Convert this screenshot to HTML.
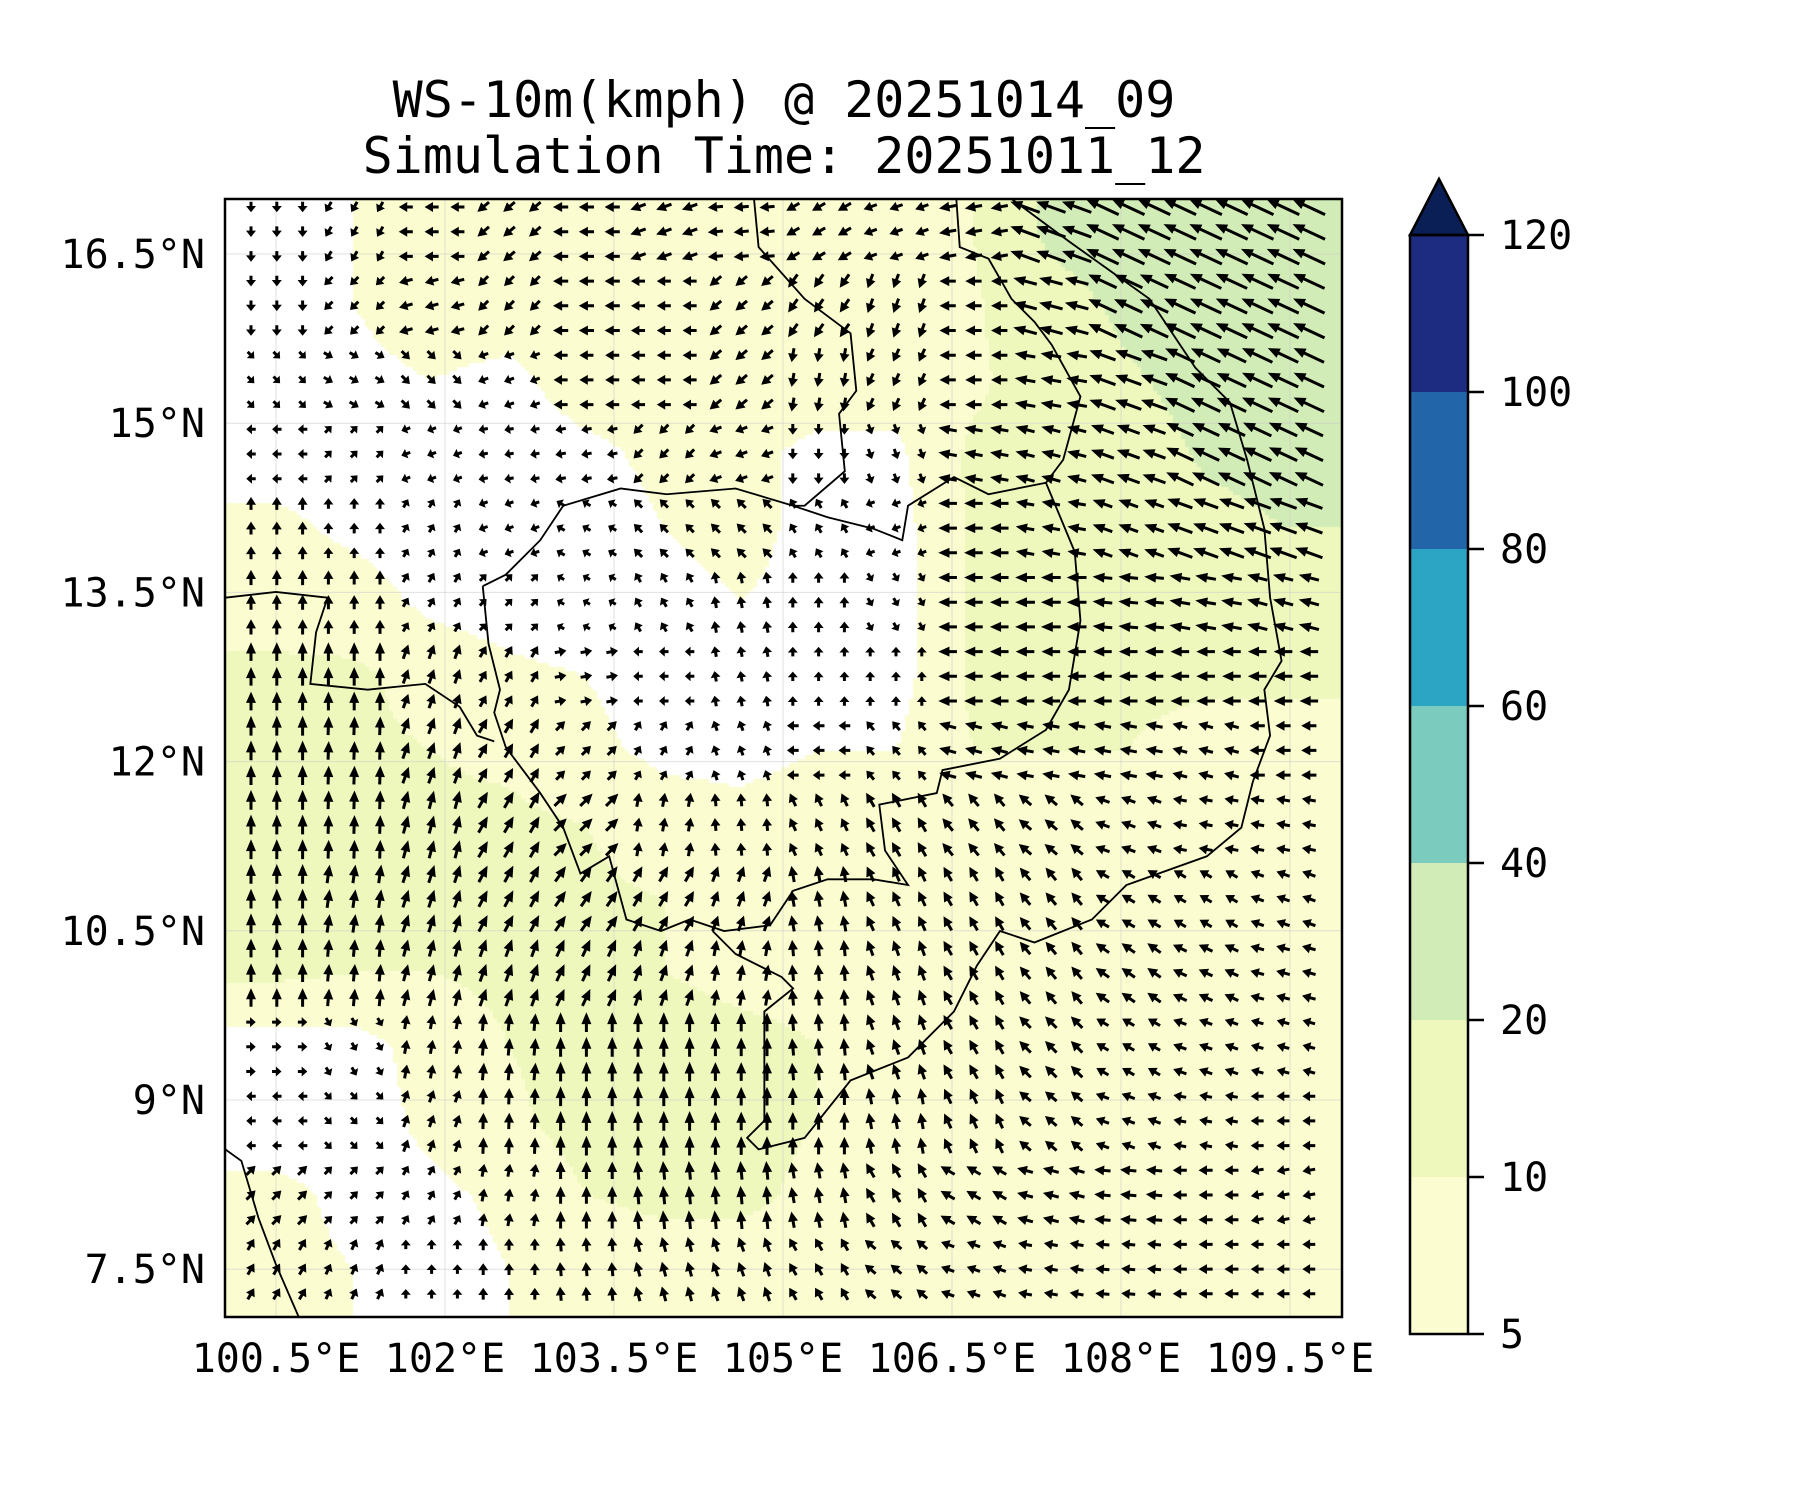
<!DOCTYPE html>
<html><head><meta charset="utf-8"><style>
html,body{margin:0;padding:0;background:#fff;}
#wrap{position:relative;width:1800px;height:1500px;}
canvas,svg{position:absolute;left:0;top:0;}
text{font-family:"DejaVu Sans Mono","Liberation Mono",monospace;fill:#000;}
</style></head><body>
<div id="wrap">
<canvas id="fill" width="1800" height="1500"></canvas>
<svg id="svg" width="1800" height="1500" xmlns="http://www.w3.org/2000/svg">
<text x="784" y="117" font-size="50" text-anchor="middle">WS-10m(kmph) @ 20251014_09</text>
<text x="784" y="173" font-size="50" text-anchor="middle">Simulation Time: 20251011_12</text>
<g id="grid"></g>
<g transform="scale(1.1494)" fill="none" stroke="#000" stroke-width="1.6">
<polyline points="420,510 440,500 470,470 490,440 540,425 580,430 640,425 690,440 720,450 760,460 785,470 790,440 830,415 860,430 910,420 935,480 940,540 930,600 910,635 870,660 820,670 815,690 765,700 770,740 790,770 760,765 720,765 690,775 670,805 630,810 600,800 575,810 545,800 530,745 505,760 490,720 470,690 440,650 430,620 435,600 425,560 420,510"/>
<polyline points="656,173 660,215 700,260 740,290 745,340 730,360 735,410 700,440 690,440"/>
<polyline points="832,173 835,215 860,225 880,260 900,280 915,300 940,345 925,400 910,420"/>
<polyline points="880,173 930,210 1000,260 1040,320 1070,350 1085,400 1100,460 1105,520 1115,575 1100,600 1105,640 1090,680 1080,720 1050,745 980,770 950,800 900,820 870,810 850,840 830,880 790,920 740,940 700,990 660,1000 650,990 665,975 665,880 690,860 680,850 640,830 620,810"/>
<polyline points="196,520 240,515 285,520 275,550 270,595 320,600 370,595 400,615 415,640 430,645"/>
<polyline points="196,1000 210,1010 225,1060 240,1100 260,1146"/>
</g>
<g id="arrows"></g>
<rect x="225" y="199" width="1117" height="1118" fill="none" stroke="#000" stroke-width="2.5"/>
<g id="xlabels"></g>
<g id="ylabels"></g>
<g id="cbar"></g>
</svg>
</div>
<script>
const ANG = [
[270,240,180,220,180,200,185,210,200,190,160,155,155,155],
[270,225,195,225,180,180,220,235,250,180,165,155,155,155],
[315,330,315,200,180,180,220,260,245,180,170,160,155,155],
[180,45,200,190,190,225,200,270,290,170,165,160,155,155],
[90,90,60,200,150,135,135,120,200,180,170,160,160,160],
[90,90,60,45,150,120,100,90,300,180,180,175,170,165],
[90,90,70,60,10,180,100,90,90,180,180,180,180,180],
[90,88,70,60,45,60,110,180,130,165,170,170,165,180],
[90,88,75,60,45,80,95,115,120,130,140,160,170,170],
[90,82,72,62,55,60,70,100,115,120,130,150,150,160],
[90,85,75,70,65,70,80,95,110,120,130,145,155,165],
[0,300,80,85,90,90,90,95,110,120,135,150,160,165],
[180,315,70,88,90,90,90,90,100,115,140,160,170,180],
[45,45,60,80,90,95,95,100,120,150,165,175,180,190],
[60,65,90,90,95,105,110,120,140,160,170,175,180,180]];
const SPD = [
[4,5,7,8,8,9,8,8,7,10,22,26,26,26],
[4,5,7,7,8,7,8,9,8,9,16,22,25,25],
[3,4,5,4,7,7,8,7,7,9,13,19,23,24],
[3,3,3,3,4,6,6,4,4,11,12,16,21,22],
[6,4,3,3,3,5,6,4,3,11,11,13,18,20],
[8,7,4,3,2,4,5,4,3,11,12,12,13,13],
[11,11,8,6,5,3,4,3,3,11,11,11,11,11],
[12,11,10,9,6,4,4,5,5,10,10,10,8,8],
[12,11,11,11,10,7,6,7,9,9,9,8,7,7],
[12,11,11,11,11,10,9,9,9,9,9,8,7,7],
[11,10,10,11,11,10,9,9,9,9,9,9,8,7],
[3,3,7,10,12,12,11,10,9,9,9,7,7,6],
[3,3,6,9,12,12,11,10,9,9,8,7,6,6],
[6,4,4,6,10,11,11,9,9,9,9,9,7,6],
[6,5,3,5,7,8,8,7,7,7,7,7,7,6]];
const LEVELS = [5,10,20,40,60,80,100,120];
const LEVEL_LABELS = ["5","10","20","40","60","80","100","120"];
const LON_TICKS = [100.5,102,103.5,105,106.5,108,109.5];
const LON_LABELS = ["100.5°E","102°E","103.5°E","105°E","106.5°E","108°E","109.5°E"];
const LAT_TICKS = [16.5,15,13.5,12,10.5,9,7.5];
const LAT_LABELS = ["16.5°N","15°N","13.5°N","12°N","10.5°N","9°N","7.5°N"];
const COLORS = ["#fbfdd0","#eef8bd","#d1ecb6","#7ccbbf","#2ca4c3","#2265a9","#1d2c80"];
const OVER = "#0a1f56";

const NS="http://www.w3.org/2000/svg";
const X0=225,X1=1342,Y0=199,Y1=1317;
function xLon(l){return 276+(l-100.5)/1.5*169;}
function yLat(l){return 254+(16.5-l)/1.5*169.2;}
function mk(t,a,p){const e=document.createElementNS(NS,t);for(const k in a)e.setAttribute(k,a[k]);(p||document.getElementById('svg')).appendChild(e);return e;}
function colorFor(s){if(s<LEVELS[0])return "#ffffff";for(let i=0;i<LEVELS.length-1;i++){if(s<LEVELS[i+1])return COLORS[i];}return OVER;}

const R=ANG.length,C=ANG[0].length;
const cv=document.getElementById('fill').getContext('2d');
const step=4;
for(let y=Y0;y<Y1;y+=step){for(let x=X0;x<X1;x+=step){
  let fc=(x+step/2-276.8)/77.4, fr=(y+step/2-231.7)/74.1;
  fc=Math.max(0,Math.min(C-1.001,fc)); fr=Math.max(0,Math.min(R-1.001,fr));
  const c0=Math.floor(fc),r0=Math.floor(fr),tx=fc-c0,ty=fr-r0;
  const s=SPD[r0][c0]*(1-tx)*(1-ty)+SPD[r0][c0+1]*tx*(1-ty)+SPD[r0+1][c0]*(1-tx)*ty+SPD[r0+1][c0+1]*tx*ty;
  cv.fillStyle=colorFor(s);cv.fillRect(x,y,Math.min(step,X1-x),Math.min(step,Y1-y));
}}

const grid=document.getElementById('grid');
LON_TICKS.forEach(l=>{const e=mk('line',{x1:xLon(l),x2:xLon(l),y1:Y0,y2:Y1,stroke:'#cccccc','stroke-width':1,'stroke-opacity':0.6},grid);

});
LAT_TICKS.forEach(l=>{const e=mk('line',{x1:X0,x2:X1,y1:yLat(l),y2:yLat(l),stroke:'#cccccc','stroke-width':1,'stroke-opacity':0.6},grid);

});

const ag=document.getElementById('arrows');
for(let j=0;j<45;j++){for(let i=0;i<42;i++){
  const r=Math.min(R-1,Math.floor(j/3)),c=Math.min(C-1,Math.floor(i/3));
  const a=ANG[r][c],s=SPD[r][c];
  const x=251+i*25.8,y=207+j*24.7;
  const L=Math.min(36,6+s*1.15),h=Math.min(12,L*0.6),w=1.5,hw=5;
  const pts=[[-L/2,-w],[L/2-h,-w],[L/2-h,-hw],[L/2,0],[L/2-h,hw],[L/2-h,w],[-L/2,w]].map(p=>p.join(',')).join(' ');
  const e=mk('polygon',{points:pts,fill:'#000',transform:`translate(${x.toFixed(1)},${y.toFixed(1)}) rotate(${-a})`},ag);
  
  
}}

const xg=document.getElementById('xlabels');
LON_TICKS.forEach((l,k)=>{const e=mk('text',{x:xLon(l),y:1372,'font-size':40,'text-anchor':'middle'},xg);e.textContent=LON_LABELS[k];

});
const yg=document.getElementById('ylabels');
LAT_TICKS.forEach((l,k)=>{const e=mk('text',{x:205,y:yLat(l)+14,'font-size':40,'text-anchor':'end'},yg);e.textContent=LAT_LABELS[k];

});

const cb=document.getElementById('cbar');
const CX0=1410,CX1=1468,CT=235,BH=157;
function yLev(i){return CT+(LEVELS.length-1-i)*BH;}
for(let i=0;i<COLORS.length;i++){const e=mk('rect',{x:CX0,y:yLev(i+1),width:CX1-CX0,height:BH,fill:COLORS[i]},cb);

}
const tri=mk('polygon',{points:`${CX0},${CT} ${CX1},${CT} ${(CX0+CX1)/2},179`,fill:OVER,stroke:'#000','stroke-width':2.5},cb);


const fr=mk('rect',{x:CX0,y:CT,width:CX1-CX0,height:BH*7,fill:'none',stroke:'#000','stroke-width':2.5},cb);


LEVELS.forEach((v,i)=>{const yy=yLev(i);
 const t=mk('line',{x1:CX1,x2:CX1+16,y1:yy,y2:yy,stroke:'#000','stroke-width':2.5},cb);
 
 
 const e=mk('text',{x:1500,y:yy+14,'font-size':40},cb);e.textContent=LEVEL_LABELS[i];
 
 });
</script>
</body></html>
